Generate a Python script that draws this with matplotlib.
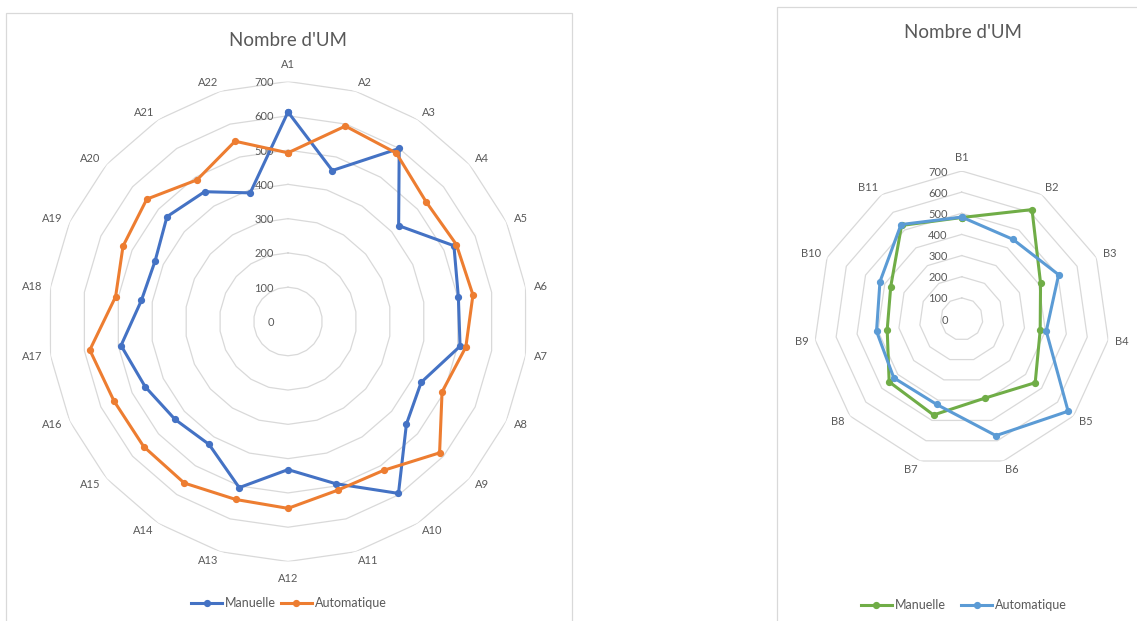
"""Two radar charts of monitor units (UM): manual vs automatic planning."""

import matplotlib.pyplot as plt
import numpy as np
from matplotlib.lines import Line2D
from matplotlib.patches import Rectangle
from matplotlib.transforms import offset_copy

plt.rcParams["font.family"] = ["Lato", "DejaVu Sans"]

TITLE = "Nombre d'UM"
SERIES_NAMES = ["Manuelle", "Automatique"]
RINGS = [0, 100, 200, 300, 400, 500, 600, 700]

# Group A (22 cases)
cases_a = [f"A{i}" for i in range(1, 23)]
manual_a = [611, 459, 600, 427, 532, 502, 507, 427, 457, 596, 493,
            432, 505, 426, 436, 458, 492, 432, 426, 467, 450, 391]
auto_a = [492, 594, 584, 533, 540, 545, 524, 494, 585, 516, 513,
          545, 541, 560, 557, 558, 584, 508, 529, 545, 491, 548]

# Group B (11 cases)
cases_b = [f"B{i}" for i in range(1, 12)]
manual_b = [480, 615, 410, 375, 460, 390, 473, 454, 356, 369, 526]
auto_b = [482, 448, 504, 404, 666, 575, 421, 425, 407, 425, 531]

TEXT_GREY = "#595959"
GRID_GREY = "#d9d9d9"


def radar(fig, rect, cases, series, colors, gap, cos_shift, top_shift):
    ax = fig.add_axes(rect, projection="polar")
    ax.set_theta_zero_location("N")
    ax.set_theta_direction(-1)
    ax.set_ylim(0, 700)
    ax.grid(False)
    ax.spines["polar"].set_visible(False)
    ax.set_xticks([])
    ax.set_yticks([])
    ax.patch.set_alpha(0)

    n = len(cases)
    angles = np.arange(n) * 2 * np.pi / n
    closed = np.append(angles, angles[0])

    # polygonal rings
    for value in RINGS[1:]:
        ax.plot(closed, np.full(n + 1, value), color=GRID_GREY, lw=0.9, zorder=1)

    # ring values just left of the first spoke
    shifted = offset_copy(ax.transData, fig=fig, x=-14, y=-1, units="dots")
    for value in RINGS:
        ax.text(0, value, str(value), transform=shifted, ha="right", va="center",
                fontsize=8, color=TEXT_GREY)

    # category names sit just outside the outer ring
    for ang, name in zip(angles, cases):
        s, c = np.sin(ang), np.cos(ang)
        if abs(s) < 1e-6:
            ha, dx, dy = "center", 0, top_shift * np.sign(c)
        else:
            ha = "left" if s > 0 else "right"
            dx, dy = gap * s, cos_shift * c
        ax.annotate(name, xy=(ang, 700), xytext=(dx, dy), textcoords="offset pixels",
                    ha=ha, va="center", fontsize=8, color=TEXT_GREY,
                    annotation_clip=False)

    for values, color in zip(series, colors):
        vals = np.append(values, values[0])
        ax.plot(closed, vals, color=color, lw=2.2, marker="o", ms=4.2, zorder=3,
                solid_joinstyle="round")

    return ax


fig = plt.figure(figsize=(11.37, 6.21), dpi=100)
W, H = 1137, 621


def frac_rect(cx, cy, r):
    return [(cx - r) / W, (H - cy - r) / H, 2 * r / W, 2 * r / H]


# frames around each chart
fig.add_artist(Rectangle((6 / W, -0.01), 566 / W, (H - 13) / H + 0.01,
                         transform=fig.transFigure, fill=False,
                         edgecolor=GRID_GREY, lw=0.9))
fig.add_artist(Rectangle((777 / W, -0.01), 400 / W, (H - 7) / H + 0.01,
                         transform=fig.transFigure, fill=False,
                         edgecolor=GRID_GREY, lw=0.9))

colors_a = ["#4472C4", "#ED7D31"]
colors_b = ["#70AD47", "#5B9BD5"]

radar(fig, frac_rect(288, 321.5, 240), cases_a, [manual_a, auto_a], colors_a,
      gap=8, cos_shift=9, top_shift=17)
radar(fig, frac_rect(961.7, 319, 148), cases_b, [manual_b, auto_b], colors_b,
      gap=7, cos_shift=8.7, top_shift=14)

fig.text(288 / W, 1 - 40 / H, TITLE, ha="center", va="center",
         fontsize=13.5, color=TEXT_GREY)
fig.text(963 / W, 1 - 33 / H, TITLE, ha="center", va="center",
         fontsize=13.5, color=TEXT_GREY)


def legend(colors, cx, cy, spacing):
    handles = [Line2D([], [], color=c, lw=2.2, marker="o", ms=4.2) for c in colors]
    fig.legend(handles, SERIES_NAMES, loc="center", bbox_to_anchor=(cx / W, 1 - cy / H),
               ncol=2, frameon=False, fontsize=9, labelcolor=TEXT_GREY,
               handlelength=2.5, handletextpad=0.25, columnspacing=spacing)


legend(colors_a, 289, 603, 0.35)
legend(colors_b, 964, 605, 1.2)

fig.savefig("out.png", dpi=100)
